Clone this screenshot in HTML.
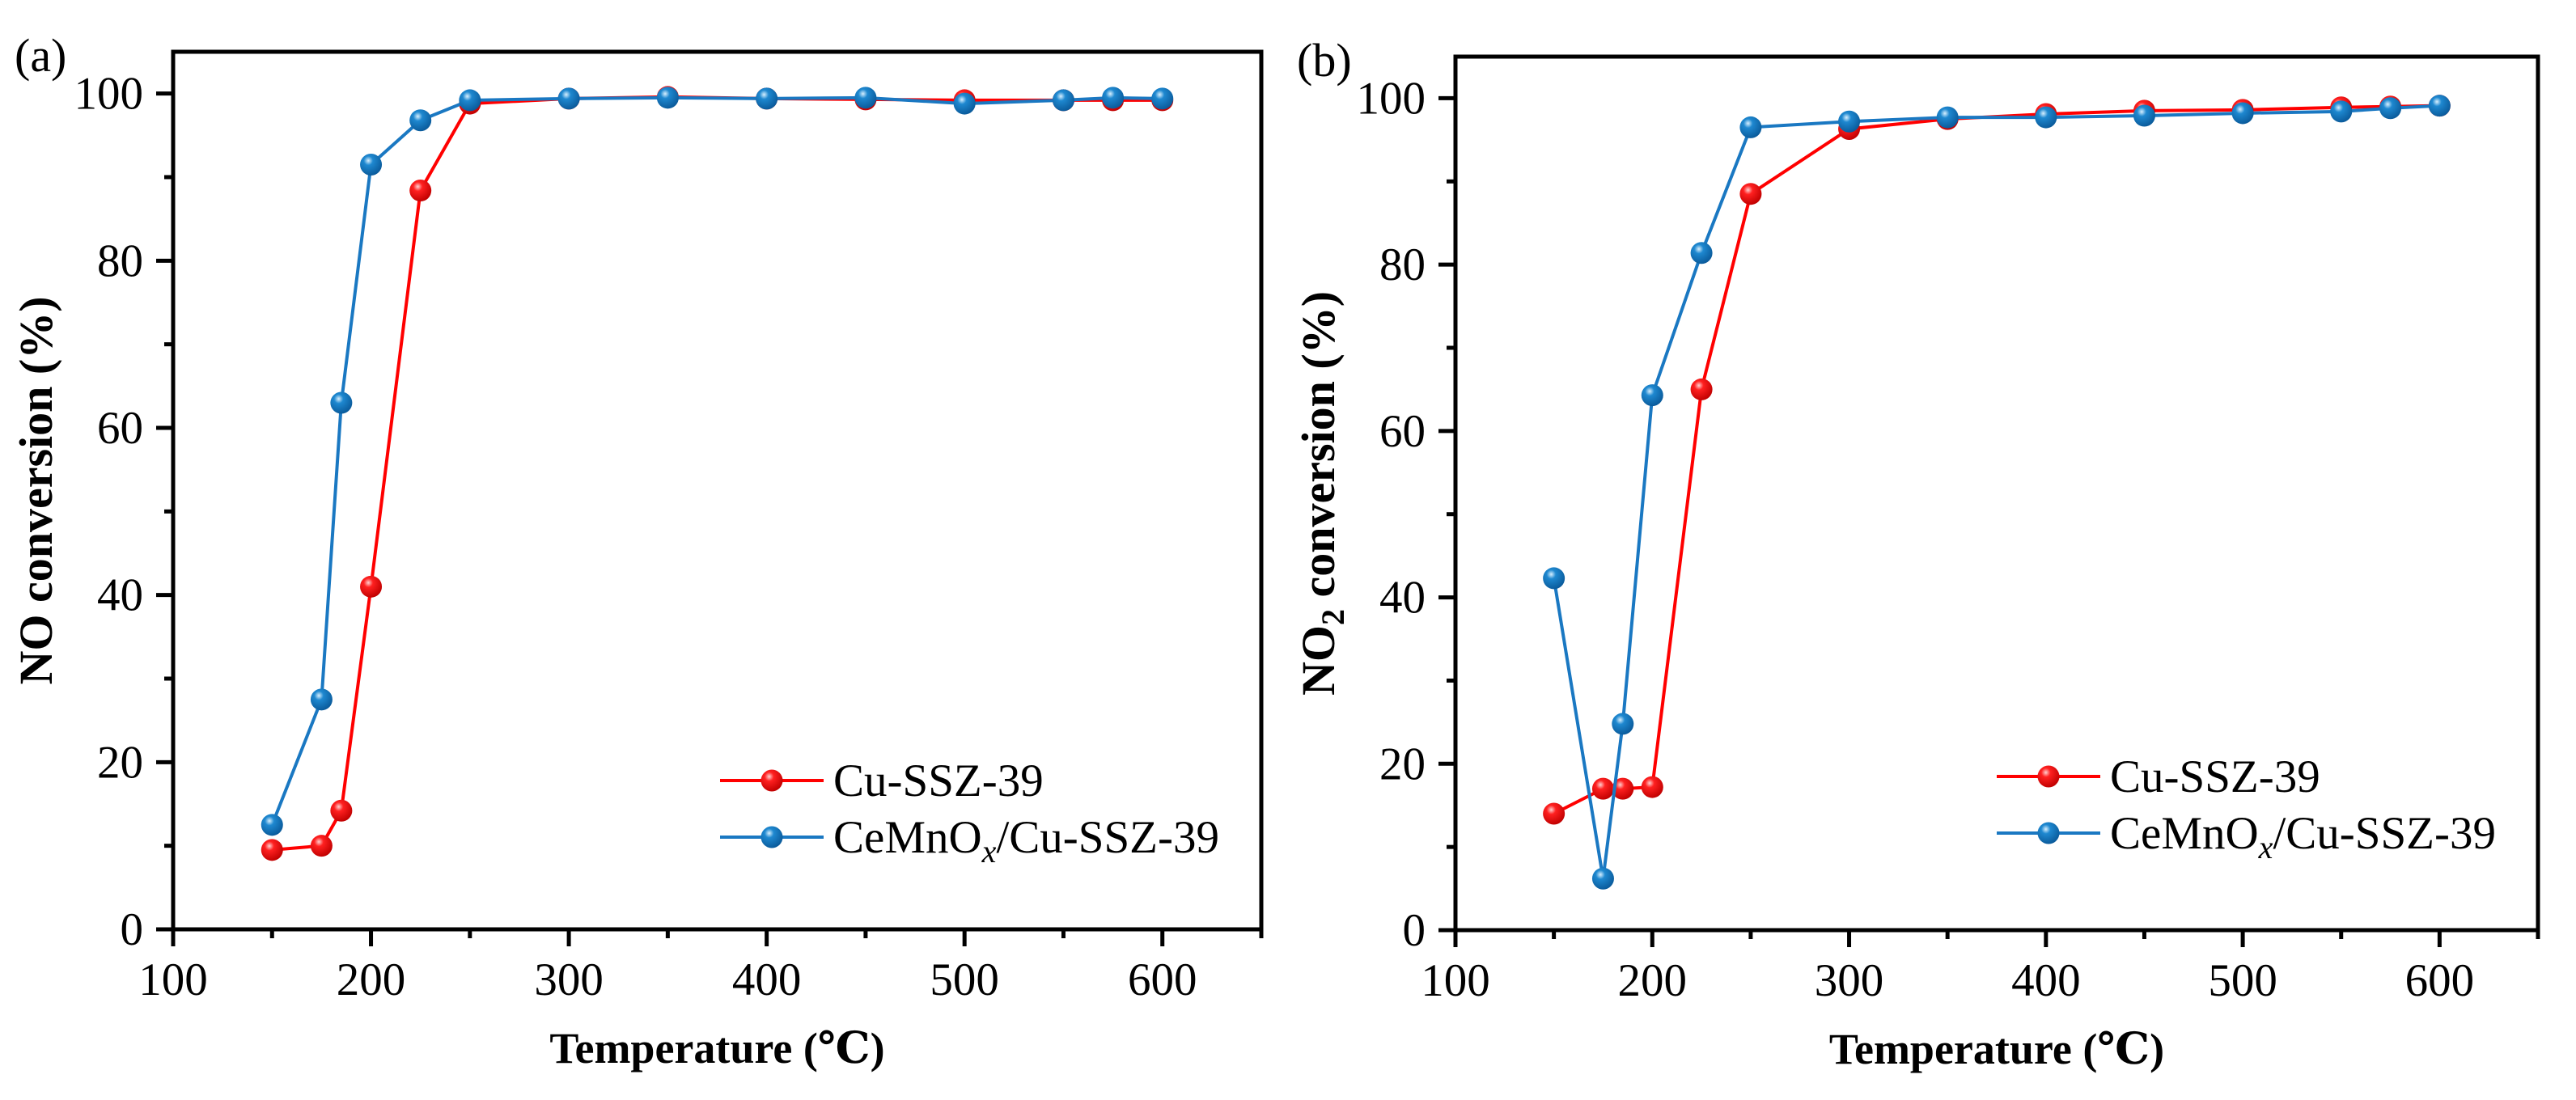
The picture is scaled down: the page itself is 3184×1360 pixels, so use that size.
<!DOCTYPE html>
<html><head><meta charset="utf-8"><style>
html,body{margin:0;padding:0;background:#fff;}
svg{display:block;}
text{font-family:"Liberation Serif",serif;fill:#000;}
</style></head><body>
<svg id="fig" width="3184" height="1360" viewBox="0 0 3184 1360" xmlns="http://www.w3.org/2000/svg">
<defs>
<radialGradient id="gRed" cx="0.38" cy="0.32" r="0.7">
<stop offset="0" stop-color="#ffd0d0"/><stop offset="0.3" stop-color="#ff2020"/><stop offset="1" stop-color="#c00000"/>
</radialGradient>
<radialGradient id="gBlue" cx="0.38" cy="0.32" r="0.7">
<stop offset="0" stop-color="#d8f0ff"/><stop offset="0.3" stop-color="#1e88d0"/><stop offset="1" stop-color="#0a5a9a"/>
</radialGradient>
</defs>
</svg>
<script>
const temps = [150,175,185,200,225,250,300,350,400,450,500,550,575,600];
const noCu = [9.5,10,14.2,41,88.4,98.8,99.4,99.6,99.4,99.3,99.2,99.2,99.2,99.2];
const noCe = [12.5,27.5,63,91.5,96.8,99.2,99.4,99.5,99.4,99.5,98.8,99.2,99.5,99.4];
const no2Cu = [14,17,17,17.2,65,88.5,96.3,97.5,98.1,98.5,98.6,98.9,99,99.1];
const no2Ce = [42.3,6.2,24.8,64.3,81.4,96.5,97.2,97.7,97.7,97.9,98.2,98.4,98.8,99.1];
const xTicks = [100,200,300,400,500,600];
const yTicks = [0,20,40,60,80,100];

const NS='http://www.w3.org/2000/svg';
const svg=document.getElementById('fig');
function mk(tag,attrs,parent){const e=document.createElementNS(NS,tag);for(const k in attrs)e.setAttribute(k,attrs[k]);(parent||svg).appendChild(e);return e;}

function panel(p){
  const g=mk('g',{});
  
  
  const X=v=>p.L+(v-100)/550*(p.R-p.L);
  const Y=v=>p.B-v/105*(p.B-p.T);
  for(let v=100;v<=650;v+=50){
    const major=v%100===0;
    const t=mk('line',{x1:X(v),x2:X(v),y1:p.B,y2:p.B+(major?21:11),stroke:'#000','stroke-width':5},g);
    
    
  }
  for(let v=0;v<=100;v+=10){
    const major=v%20===0;
    const t=mk('line',{x1:p.L-(major?21:11),x2:p.L,y1:Y(v),y2:Y(v),stroke:'#000','stroke-width':5},g);
    
    
  }
  xTicks.forEach(v=>{
    const t=mk('text',{x:X(v),y:p.B+81,'font-size':57,'text-anchor':'middle'},g);
    t.textContent=v;
    
    
  });
  yTicks.forEach(v=>{
    const t=mk('text',{x:p.L-37,y:Y(v)+19,'font-size':57,'text-anchor':'end'},g);
    t.textContent=v;
    
    
  });
  const fr=mk('rect',{x:p.L,y:p.T,width:p.R-p.L,height:p.B-p.T,fill:'none',stroke:'#000','stroke-width':5},g);
  
  
  [[p.s1,'#ff0000','url(#gRed)','series-cu-ssz-39'],[p.s2,'#1a78c2','url(#gBlue)','series-cemnox-cu-ssz-39']].forEach(([d,c,f,n])=>{
    const sg=mk('g',{},g);
    
    
    const pts=temps.map((t,i)=>X(t)+','+Y(d[i])).join(' ');
    const pl=mk('polyline',{points:pts,fill:'none',stroke:c,'stroke-width':4},sg);
    
    
    temps.forEach((t,i)=>{
      const m=mk('circle',{cx:X(t),cy:Y(d[i]),r:13.5,fill:f},sg);
      
      
    });
  });
  [[p.lg1,'#ff0000','url(#gRed)','Cu-SSZ-39',false],[p.lg2,'#1a78c2','url(#gBlue)','CeMnO',true]].forEach(([ly,c,f,txt,ce])=>{
    const lg=mk('g',{},g);
    
    
    mk('line',{x1:p.lx,x2:p.lx+128,y1:ly,y2:ly,stroke:c,'stroke-width':4},lg);
    mk('circle',{cx:p.lx+64,cy:ly,r:13.5,fill:f},lg);
    const t=mk('text',{x:p.lx+140,y:ly+19,'font-size':57},lg);
    if(ce){
      t.appendChild(document.createTextNode('CeMnO'));
      const s=mk('tspan',{'font-style':'italic','font-size':40,dy:12},t);s.textContent='x';
      const r=mk('tspan',{dy:-12},t);r.textContent='/Cu-SSZ-39';
    } else t.textContent=txt;
  });
  const xt=mk('text',{x:(p.L+p.R)/2,y:p.B+165,'font-size':54,'font-weight':'bold','text-anchor':'middle'},g);
  xt.appendChild(document.createTextNode('Temperature ('));
  const deg=mk('tspan',{'font-family':'"Liberation Serif","DejaVu Serif","Noto Sans CJK SC",serif'},xt);
  deg.textContent='\u2103';
  xt.appendChild(document.createTextNode(')'));
  
  
  const yt=mk('text',{x:0,y:0,'font-size':58,'font-weight':'bold','text-anchor':'middle',transform:`translate(${p.L-150},${(p.T+p.B)/2}) rotate(-90)`},g);
  if(p.no2){
    yt.appendChild(document.createTextNode('NO'));
    const s=mk('tspan',{'font-size':40,dy:12},yt);s.textContent='2';
    const r=mk('tspan',{dy:-12},yt);r.textContent=' conversion (%)';
  } else yt.textContent='NO conversion (%)';
  
  
  const pl=mk('text',{x:p.L-196,y:p.T+24,'font-size':58},g);
  pl.textContent=p.label;
  
  
}
panel({name:'panel-a',L:214,R:1559,T:64,B:1149,s1:noCu,s2:noCe,lx:890,lg1:965,lg2:1035,label:'(a)',no2:false});
panel({name:'panel-b',L:1799,R:3137,T:70,B:1150,s1:no2Cu,s2:no2Ce,lx:2468,lg1:960,lg2:1030,label:'(b)',no2:true});
</script>
</body></html>
